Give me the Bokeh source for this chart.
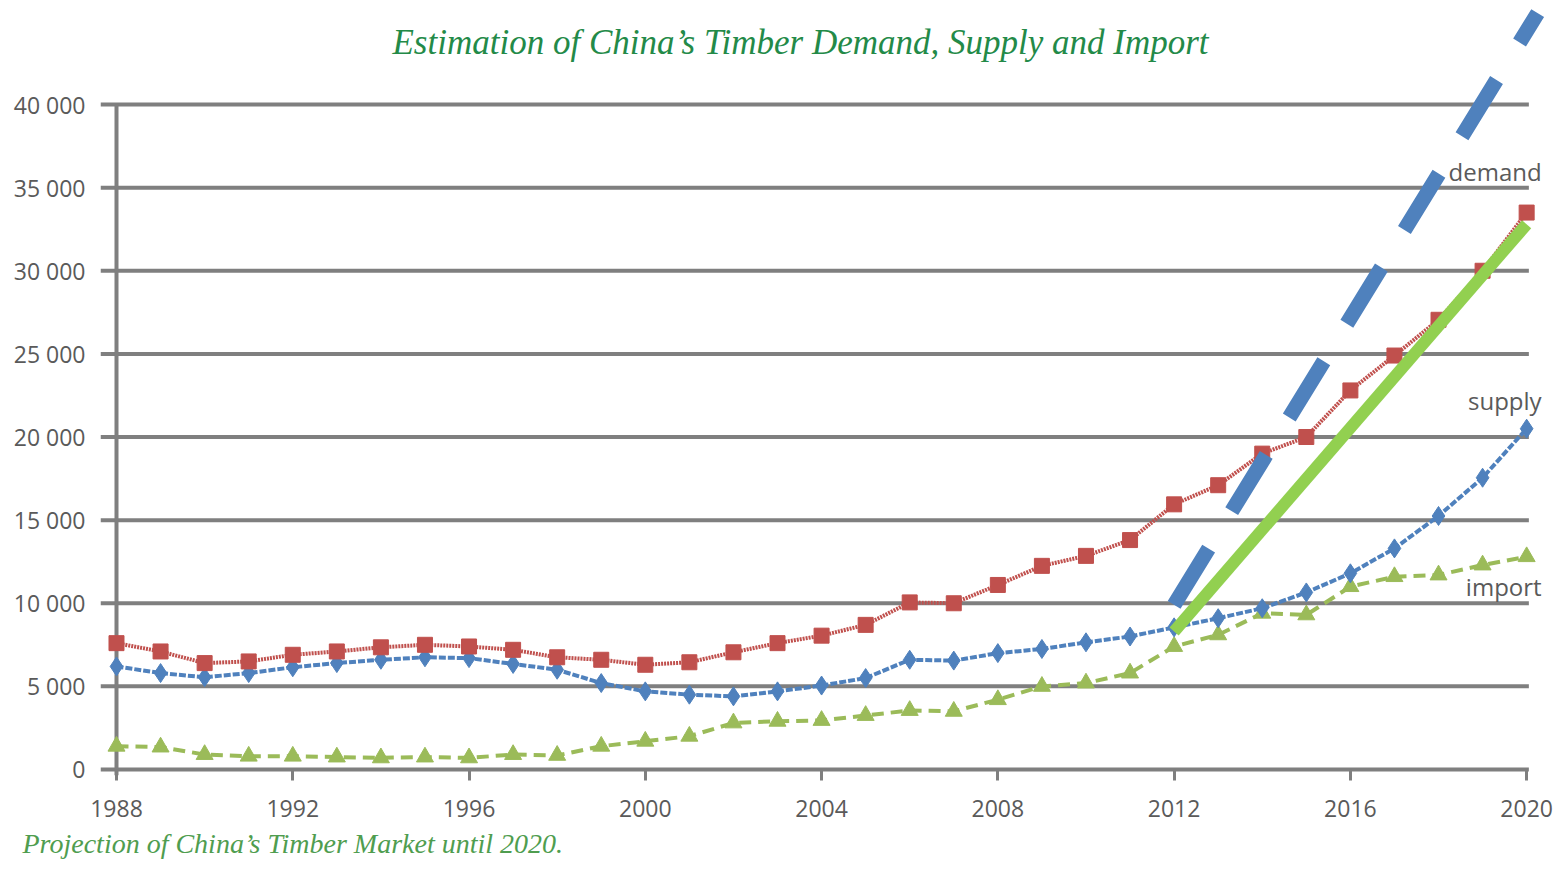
from bokeh.plotting import figure
from bokeh.models import FixedTicker, Label, Range1d, Title
from bokeh.core.properties import value
from bokeh.embed import file_html
from bokeh.resources import INLINE

# ---- data ----
years = list(range(1988, 2021))
demand = [7600, 7100, 6400, 6500, 6900, 7100, 7350, 7500, 7400, 7200, 6750,
          6600, 6300, 6450, 7050, 7600, 8050, 8700, 10050, 10000, 11100, 12250,
          12850, 13800, 15950, 17100, 19000, 20000, 22800, 24900, 27050, 30000, 33500]
supply = [6200, 5800, 5550, 5800, 6150, 6400, 6600, 6750, 6700, 6350, 6000,
          5200, 4700, 4500, 4400, 4700, 5050, 5500, 6600, 6550, 7000, 7250,
          7650, 8000, 8550, 9100, 9700, 10650, 11800, 13300, 15250, 17550, 20500]
imports = [1400, 1350, 900, 800, 800, 750, 700, 750, 700, 900, 850,
           1400, 1700, 2000, 2800, 2900, 2950, 3250, 3550, 3500, 4200, 5000,
           5200, 5800, 7400, 8100, 9400, 9300, 11000, 11600, 11700, 12300, 12800]

trend_solid_x = [2012, 2020]
trend_solid_y = [8300, 32800]
trend_dash_x = [2012, 2020.25]
trend_dash_y = [9900, 45500]

y_ticks = [0, 5000, 10000, 15000, 20000, 25000, 30000, 35000, 40000]
y_tick_labels = ["0", "5 000", "10 000", "15 000", "20 000", "25 000",
                 "30 000", "35 000", "40 000"]
x_ticks = [1988, 1992, 1996, 2000, 2004, 2008, 2012, 2016, 2020]

series_names = ["demand", "supply", "import"]
title_text = "Estimation of China\u2019s Timber Demand, Supply and Import"
caption_text = "Projection of China\u2019s Timber Market until 2020."

# ---- styling ----
GRID = "#7f7f7f"
TXT = "#5a5a5a"
RED = "#c0504d"
BLUE = "#4f81bd"
GREEN = "#9bbb59"
BRIGHT = "#92d050"

x0, x1 = 1987.637, 2020.70
y0, y1 = -361, 46256

p = figure(width=1557, height=870, output_backend="svg", toolbar_location=None,
           x_range=Range1d(x0, x1), y_range=Range1d(y0, y1),
           min_border_left=100, min_border_right=0, min_border_top=0,
           min_border_bottom=95)
p.outline_line_color = None
p.background_fill_color = "white"
p.border_fill_color = "white"
p.xgrid.visible = False
p.ygrid.visible = False

# y axis (labels only)
p.yaxis.ticker = FixedTicker(ticks=y_ticks)
p.yaxis.major_label_overrides = {t: l for t, l in zip(y_ticks, y_tick_labels)}
p.yaxis.axis_line_color = None
p.yaxis.major_tick_line_color = None
p.yaxis.minor_tick_line_color = None
p.yaxis.major_tick_out = 0
p.yaxis.major_tick_in = 0
p.yaxis.major_label_standoff = 15
p.yaxis.major_label_text_font = "Open Sans"
p.yaxis.major_label_text_font_size = "23px"
p.yaxis.major_label_text_color = TXT

# x axis
p.xaxis.ticker = FixedTicker(ticks=x_ticks)
p.xaxis.axis_line_color = None
p.xaxis.major_tick_line_color = GRID
p.xaxis.major_tick_line_width = 3
p.xaxis.major_tick_out = 5
p.xaxis.major_tick_in = 6
p.xaxis.minor_tick_line_color = None
p.xaxis.major_label_standoff = 19
p.xaxis.major_label_text_font = "Open Sans"
p.xaxis.major_label_text_font_size = "23px"
p.xaxis.major_label_text_color = TXT

# gridlines and axis line
p.segment(x0=[x0] * len(y_ticks), x1=[2020.05] * len(y_ticks), y0=y_ticks, y1=y_ticks,
          line_color=GRID, line_width=4)
p.segment(x0=[years[0]], x1=[years[0]], y0=[y0], y1=[y_ticks[-1]],
          line_color=GRID, line_width=4)

# series
p.line(years, imports, line_color=GREEN, line_width=4, line_dash="12 7")
p.scatter(years, imports, marker="triangle", size=17, fill_color=GREEN, line_color=GREEN)

p.line(years, supply, line_color=BLUE, line_width=4, line_dash="7 2")
p.scatter(years, supply, marker="diamond", size=19, fill_color=BLUE, line_color=BLUE)

p.line(years, demand, line_color=RED, line_width=4, line_dash="2 1")
p.scatter(years, demand, marker="square", size=15, fill_color=RED, line_color=RED)

# overlaid trend lines
p.line(trend_dash_x, trend_dash_y, line_color=BLUE, line_width=15, line_dash="66 44",
       line_cap="butt")
p.line(trend_solid_x, trend_solid_y, line_color=BRIGHT, line_width=12, line_cap="butt")

# series labels
p.text(x=[2020.34] * 3, y=[36000, 22200, 11000], text=series_names,
       text_font=value("Open Sans"), text_font_size="24px", text_color=TXT,
       text_align="right", text_baseline="middle")

# title and caption
p.add_layout(Label(x=700, y=733, x_units="screen", y_units="screen", text=title_text,
                   text_font="Liberation Serif", text_font_style="italic",
                   text_font_size="35px", text_color="#238a48",
                   text_align="center", text_baseline="middle"))
p.add_layout(Title(text=caption_text, align="left", offset=-78,
                   text_font="Liberation Serif", text_font_style="italic",
                   text_font_size="28px", text_color="#4f9d4f", standoff=12,
                   text_line_height=0.8),
             "below")

open("out.html", "w").write(file_html(p, INLINE))
